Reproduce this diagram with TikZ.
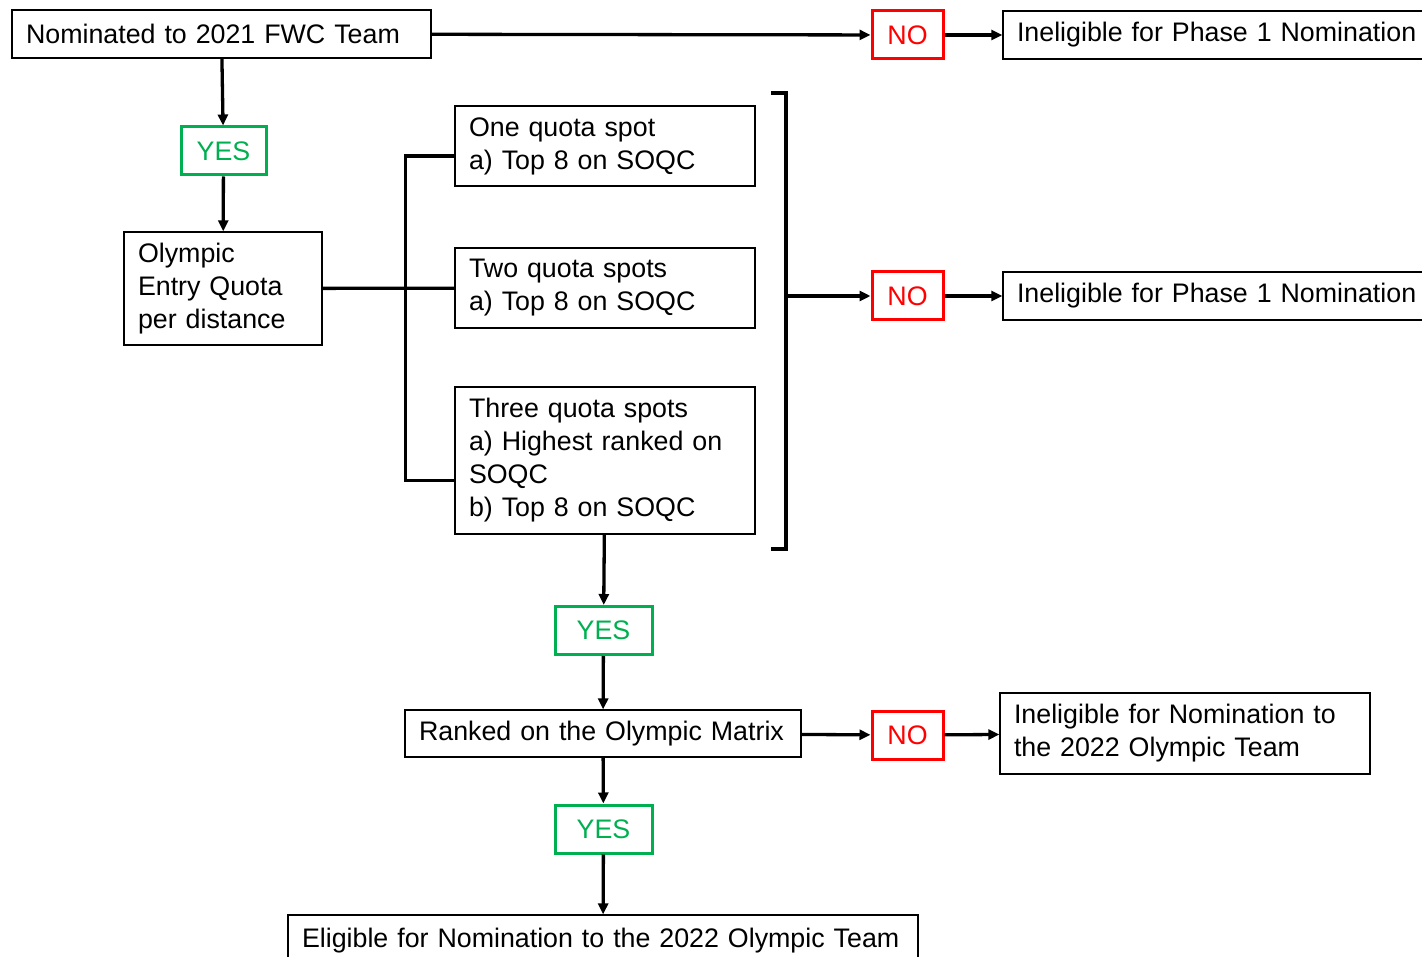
\documentclass[tikz,border=0pt]{standalone}
\usepackage{fontspec}
\setmainfont{Liberation Sans}
\usetikzlibrary{arrows.meta}

\definecolor{yesgreen}{RGB}{0,176,80}
\definecolor{nored}{RGB}{255,0,0}

\begin{document}
\begin{tikzpicture}[x=1pt, y=-1pt, line width=3.3pt,
    >={Triangle[length=11pt,width=10pt]},
    every node/.style={font=\fontsize{26.8}{33}\selectfont},
    box/.style={draw, line width=1.3pt, inner xsep=14pt, inner ysep=0pt, align=left},
    yes/.style={draw=yesgreen, text=yesgreen, line width=3pt, inner sep=0pt, minimum height=48pt},
    no/.style={draw=nored, text=nored, line width=3pt, inner sep=0pt, minimum width=71pt, minimum height=48pt}]
            \useasboundingbox (0,0) rectangle (1422,957);

            \node (F) at (221.5, 34) [box, text width=391pt, minimum height=48pt] {Nominated to 2021 FWC Team};
            \node (N1) at (907.5, 35) [no] {NO};
            \node (I1) at (1237, 35) [box, text width=440pt, minimum height=48pt] {Ineligible for Phase 1 Nomination};

            \node (Y1) at (223.5, 151) [yes, minimum width=85pt] {YES};
            \node (Q) at (223, 288.5) [box, text width=170pt, minimum height=113pt] {Olympic\\Entry Quota\\per distance};

            \node (S1) at (605, 146) [box, text width=272pt, minimum height=80pt] {One quota spot\\a) Top 8 on SOQC};
            \node (S2) at (605, 288) [box, text width=272pt, minimum height=80pt] {Two quota spots\\a) Top 8 on SOQC};
            \node (S3) at (605, 460.5) [box, text width=272pt, minimum height=147pt] {Three quota spots\\a) Highest ranked on\\SOQC\\b) Top 8 on SOQC};

            \coordinate (B) at (786, 296);
            \node (N2) at (907.5, 296) [no] {NO};
            \node (I2) at (1237, 296) [box, text width=440pt, minimum height=48pt] {Ineligible for Phase 1 Nomination};

            \node (Y2) at (603.5, 630.5) [yes, minimum width=97pt] {YES};
            \node (R) at (603, 733.5) [box, text width=368pt, minimum height=47pt] {Ranked on the Olympic Matrix};
            \node (N3) at (907.5, 735) [no] {NO};
            \node (I3) at (1185, 733.5) [box, text width=342pt, minimum height=81pt] {Ineligible for Nomination to\\the 2022 Olympic Team};
            \node (Y3) at (603.5, 829) [yes, minimum width=97pt] {YES};
            \node (E) at (603, 941) [box, text width=602pt, minimum height=52pt] {Eligible for Nomination to the 2022 Olympic Team};

            % top row
            \draw [->] (F) -- (N1);
            \draw [->] (N1) -- (I1);
            \draw [->] (F) -- (Y1);
            \draw [->] (Y1) -- (Q);

            % quota spots
            \draw (Q) -- (S2);
            \draw ([yshift=-10pt]S1.west) -- ++(-49, 0) |- ([yshift=-20pt]S3.west);
            \draw (771, 93) -- (786, 93) -- (786, 549) -- (771, 549);
            \draw [->] (B) -- (N2);
            \draw [->] (N2) -- (I2);

            % matrix
            \draw [->] (S3) -- (Y2);
            \draw [->] (Y2) -- (R);
            \draw [->] (R) -- (N3);
            \draw [->] (N3) -- (I3);
            \draw [->] (R) -- (Y3);
            \draw [->] (Y3) -- (E);
        \end{tikzpicture}
\end{document}
